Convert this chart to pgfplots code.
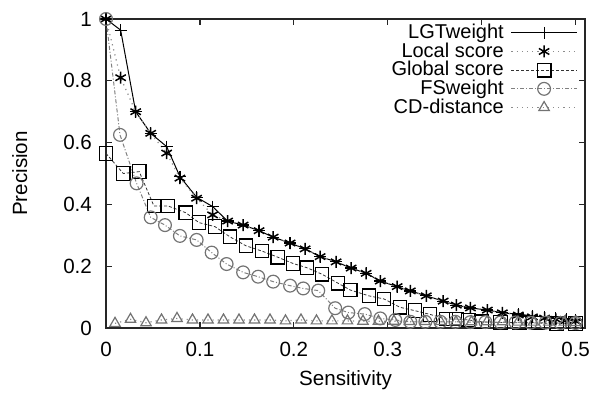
\documentclass[border=0pt]{standalone}
\usepackage{pgfplots}
\pgfplotsset{compat=1.18}
\usepackage{fontspec}
\setmainfont{Liberation Sans}
\begin{document}
\fontsize{10}{12}\selectfont
\begin{tikzpicture}
\begin{axis}[
  name=ax,
  scale only axis,
  width=239.5pt, height=154.5pt,
  xmin=0, xmax=0.51, ymin=0, ymax=1,
  xtick={0,0.1,0.2,0.3,0.4,0.5},
  ytick={0,0.2,0.4,0.6,0.8,1},
  xticklabels={0,0.1,0.2,0.3,0.4,0.5},
  yticklabels={0,0.2,0.4,0.6,0.8,1},
  tick align=inside,
  major tick length=3pt,
  axis line style={line width=0.8pt, black!85},
  tick style={line width=0.6pt, black!85},
  xlabel={Sensitivity},
  ylabel={Precision},
  xlabel style={at={(axis description cs:0.5,-0.168)}, anchor=center},
  ylabel style={at={(axis description cs:-0.18,0.5)}, anchor=center},
  xticklabel style={yshift=-3.5pt},
  yticklabel style={xshift=-3.5pt},
  /pgf/number format/assume math mode=true,
  tick label style={font=\fontsize{10.3}{12}\selectfont},
  label style={font=\fontsize{10.3}{12}\selectfont},
  legend style={draw=none, fill=none, at={(rel axis cs:0.985,0.985)}, anchor=north east,
    font=\fontsize{10}{11}\selectfont, row sep=0.6pt, column sep=3.5pt, inner sep=0pt, nodes={inner sep=0pt}},
  legend cell align=right,
  legend plot pos=right,
  legend image code/.code={
    \draw[#1] (0cm,0cm) -- (1.15cm,0cm);
    \draw[#1, solid] plot coordinates {(0.575cm,0cm)};
  },
]
\addplot[black, line width=0.5pt, mark=+, mark size=3pt, mark options={solid, line width=0.6pt}] coordinates {
(0,1) (0.0156,0.964) (0.0316,0.70) (0.0476,0.63) (0.0646,0.587) (0.0787,0.49) (0.0965,0.423) (0.1135,0.393) (0.1295,0.346) (0.146,0.333) (0.163,0.315) (0.178,0.294) (0.196,0.275) (0.212,0.256) (0.228,0.231) (0.245,0.214) (0.261,0.194) (0.277,0.177) (0.292,0.152) (0.31,0.134) (0.324,0.12) (0.341,0.104) (0.359,0.087) (0.373,0.074) (0.388,0.065) (0.406,0.058) (0.422,0.049) (0.439,0.045) (0.454,0.039) (0.467,0.036) (0.479,0.031) (0.49,0.029) (0.5,0.026)
};
\addlegendentry{LGTweight}
\addplot[black!45, line width=0.6pt, dotted, mark=asterisk, mark size=3pt, mark options={solid, black, line width=0.75pt}] coordinates {
(0,1) (0.0156,0.81) (0.0316,0.70) (0.0476,0.63) (0.0646,0.566) (0.0787,0.485) (0.0965,0.42) (0.1135,0.366) (0.1295,0.346) (0.146,0.333) (0.163,0.315) (0.178,0.294) (0.196,0.275) (0.212,0.256) (0.228,0.231) (0.245,0.214) (0.261,0.194) (0.277,0.177) (0.292,0.152) (0.31,0.134) (0.324,0.12) (0.341,0.104) (0.359,0.087) (0.373,0.074) (0.388,0.065) (0.406,0.058) (0.422,0.049) (0.439,0.042) (0.454,0.036) (0.467,0.032) (0.479,0.028) (0.49,0.025) (0.5,0.022)
};
\addlegendentry{Local score}
\addplot[black!80, line width=0.4pt, dash pattern=on 1.5pt off 1pt, mark=square, mark size=3.4pt, mark options={solid, black, line width=0.6pt}] coordinates {
(0,0.565) (0.0184,0.50) (0.0354,0.506) (0.051,0.395) (0.066,0.395) (0.085,0.373) (0.099,0.341) (0.116,0.328) (0.132,0.295) (0.149,0.266) (0.166,0.249) (0.183,0.229) (0.199,0.209) (0.214,0.195) (0.230,0.174) (0.247,0.145) (0.260,0.123) (0.280,0.104) (0.296,0.094) (0.313,0.067) (0.329,0.056) (0.345,0.044) (0.362,0.029) (0.373,0.029) (0.386,0.026) (0.40,0.02) (0.42,0.018) (0.44,0.017) (0.46,0.016) (0.48,0.015) (0.50,0.015)
};
\addlegendentry{Global score}
\addplot[black!50, line width=0.5pt, dash pattern=on 2pt off 1pt on 0.5pt off 1pt, mark=o, mark size=3.2pt, mark options={solid, black!55, line width=0.6pt}] coordinates {
(0,1) (0.0149,0.625) (0.0326,0.468) (0.0476,0.358) (0.0628,0.333) (0.0787,0.298) (0.0965,0.285) (0.1125,0.244) (0.1284,0.207) (0.146,0.18) (0.162,0.166) (0.178,0.15) (0.196,0.137) (0.210,0.128) (0.226,0.121) (0.244,0.064) (0.258,0.05) (0.2755,0.045) (0.292,0.031) (0.308,0.026) (0.324,0.02) (0.340,0.02) (0.356,0.02) (0.372,0.02) (0.388,0.019) (0.404,0.019) (0.420,0.018) (0.436,0.018) (0.452,0.017) (0.468,0.017) (0.484,0.016) (0.50,0.016)
};
\addlegendentry{FSweight}
\addplot[black!45, line width=0.6pt, dotted, mark=triangle, mark size=3pt, mark options={solid, black!55, line width=0.6pt}] coordinates {
(0.0096,0.015) (0.0261,0.028) (0.0426,0.017) (0.0591,0.026) (0.0756,0.031) (0.0921,0.026) (0.1086,0.026) (0.1251,0.026) (0.1416,0.026) (0.1581,0.026) (0.1746,0.026) (0.1911,0.023) (0.2076,0.026) (0.2241,0.023) (0.2406,0.023) (0.2571,0.023) (0.2736,0.022) (0.2901,0.022) (0.3066,0.022) (0.3231,0.021) (0.3396,0.021) (0.3561,0.021) (0.3726,0.02) (0.3891,0.02) (0.4056,0.02) (0.4221,0.02) (0.4386,0.019) (0.4551,0.019) (0.4716,0.019) (0.4881,0.019) (0.50,0.018)
};
\addlegendentry{CD-distance}
\end{axis}
\pgfresetboundingbox
\path[use as bounding box] ([xshift=-53pt,yshift=-33pt]ax.south west) rectangle ([xshift=3.5pt,yshift=9.5pt]ax.north east);
\end{tikzpicture}
\end{document}
